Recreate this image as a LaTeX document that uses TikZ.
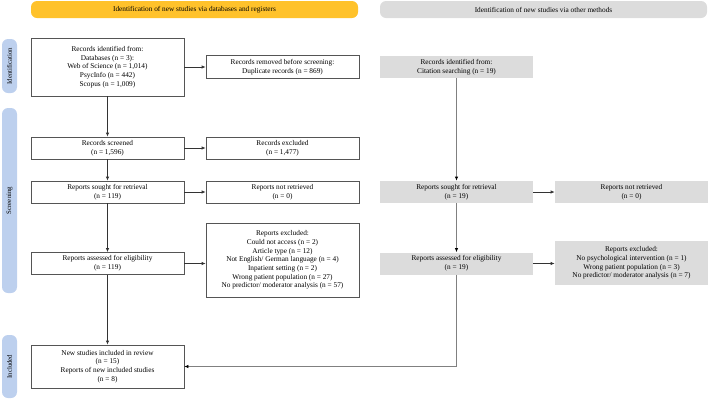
\documentclass[tikz,border=0pt]{standalone}
\usepackage{fontspec}
\setmainfont{Liberation Serif}
\usetikzlibrary{arrows.meta}
\definecolor{prismayellow}{HTML}{FFC22B}
\definecolor{prismagray}{HTML}{DCDCDC}
\definecolor{prismablue}{HTML}{BDD0EE}
\definecolor{boxline}{HTML}{555555}

\begin{document}
\begin{tikzpicture}[x=1pt,y=-1pt,
    box/.style={draw=boxline,line width=0.7pt,fill=white,minimum width=153pt,inner sep=0pt,
      align=center,font=\fontsize{7.3}{8.7}\selectfont},
    graybox/.style={box,draw=none,fill=prismagray},
    header/.style={rounded corners=6pt,minimum width=327pt,minimum height=17pt,inner sep=0pt,
      font=\fontsize{7.3}{8.7}\selectfont},
    phase/.style={fill=prismablue,rounded corners=6pt,minimum height=15pt,inner sep=0pt,
      rotate=90,font=\fontsize{6.8}{8}\selectfont},
    arr/.style={-{Latex[length=4pt,width=3.5pt]},line width=0.7pt,draw=black!80},
    oarr/.style={-{Latex[length=4pt,width=3.5pt,color=black]},line width=0.7pt,draw=black!50}]
  \useasboundingbox (0,0) rectangle (709,400);

  % headers
  \node[header,fill=prismayellow] (hdb) at (194.5,9.5) {Identification of new studies via databases and registers};
  \node[header,fill=prismagray] (hother) at (543.5,9.5) {Identification of new studies via other methods};

  % phases
  \node[phase,minimum width=54pt] (pid) at (9.5,66) {Identification};
  \node[phase,minimum width=185pt] (pscr) at (9.5,200.5) {Screening};
  \node[phase,minimum width=63pt] (pinc) at (9.5,366.5) {Included};

  % databases and registers
  \node[box,minimum height=58pt] (id) at (107.5,67) {Records identified from:\\Databases (n = 3):\\Web of Science (n = 1,014)\\PsycInfo (n = 442)\\Scopus (n = 1,009)};
  \node[box,minimum height=23pt] (removed) at (282.5,67) {Records removed before screening:\\Duplicate records (n = 869)};
  \node[box,minimum height=22pt] (screened) at (107.5,148) {Records screened\\(n = 1,596)};
  \node[box,minimum height=22pt] (excluded) at (282.5,148) {Records excluded\\(n = 1,477)};
  \node[box,minimum height=22pt] (sought) at (107.5,192) {Reports sought for retrieval\\(n = 119)};
  \node[box,minimum height=22pt] (notretr) at (282.5,192) {Reports not retrieved\\(n = 0)};
  \node[box,minimum height=22pt] (assessed) at (107.5,263.5) {Reports assessed for eligibility\\(n = 119)};
  \node[box,minimum height=74pt] (reasons) at (282.5,260) {Reports excluded:\\Could not access (n = 2)\\Article type (n = 12)\\Not English/ German language (n = 4)\\Inpatient setting (n = 2)\\Wrong patient population (n = 27)\\No predictor/ moderator analysis (n = 57)};
  \node[box,minimum height=43pt] (included) at (107.5,366.5) {New studies included in review\\(n = 15)\\Reports of new included studies\\(n = 8)};

  % other methods
  \node[graybox,minimum height=22pt] (citation) at (456.5,67) {Records identified from:\\Citation searching (n = 19)};
  \node[graybox,minimum height=22pt] (osought) at (456.5,192) {Reports sought for retrieval\\(n = 19)};
  \node[graybox,minimum height=22pt] (onotretr) at (631.5,192) {Reports not retrieved\\(n = 0)};
  \node[graybox,minimum height=22pt] (oassessed) at (456.5,263.5) {Reports assessed for eligibility\\(n = 19)};
  \node[graybox,minimum height=44pt] (oreasons) at (631.5,263) {Reports excluded:\\No psychological intervention (n = 1)\\Wrong patient population (n = 3)\\No predictor/ moderator analysis (n = 7)};

  \draw[arr] (id) -- (screened);
  \draw[arr] (screened) -- (sought);
  \draw[arr] (sought) -- (assessed);
  \draw[arr] (assessed) -- (included);
  \draw[arr] (id.east) -- (id.east -| removed.west);
  \draw[arr] (screened) -- (excluded);
  \draw[arr] (sought) -- (notretr);
  \draw[arr] (assessed.east) -- (assessed.east -| reasons.west);

  \draw[oarr] (citation) -- (osought);
  \draw[oarr] (osought) -- (oassessed);
  \draw[arr] (osought) -- (onotretr);
  \draw[arr] (oassessed.east) -- (oassessed.east -| oreasons.west);
  \draw[oarr] (oassessed.south) |- (included.east);
\end{tikzpicture}
\end{document}
